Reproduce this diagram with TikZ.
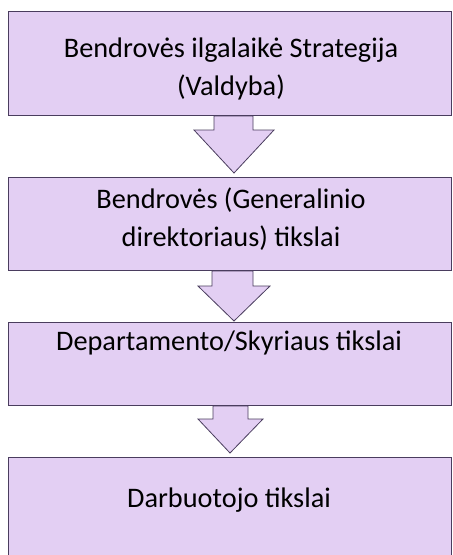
\documentclass[tikz,border=0pt]{standalone}
\usepackage{fontspec}
\setmainfont{Carlito}
\usetikzlibrary{calc,backgrounds}
\definecolor{boxfill}{HTML}{E3CFF3}
\definecolor{boxline}{HTML}{4A3D5E}
\tikzset{
  stage/.style={draw=boxline, fill=boxfill, line width=1pt, minimum width=443pt, inner sep=0pt, anchor=north west},
  caption/.style={font=\fontsize{28.3}{38}\selectfont, align=center, text=black, inner sep=0pt},
  flow/.style={draw=boxline, fill=boxfill, line width=0.8pt, line join=miter}
}
\begin{document}
\begin{tikzpicture}[x=1pt,y=-1pt]
\useasboundingbox (0,0) rectangle (453,555);
\clip (0,0) rectangle (453,555);
\node[stage, minimum height=104pt] (b1) at (8,11) {};
\node[stage, minimum height=93pt] (b2) at (8,177) {};
\node[stage, minimum height=83pt] (b3) at (8,322) {};
\node[stage, minimum height=110pt] (b4) at (8,457) {};
\node[caption] (t1) at (231,69) {Bendrovės ilgalaikė Strategija\\(Valdyba)};
\node[caption] (t2) at (231,219.5) {Bendrovės (Generalinio\\direktoriaus) tikslai};
\node[caption] (t3) at (229,343) {Departamento/Skyriaus tikslai};
\node[caption] (t4) at (229,500) {Darbuotojo tikslai};
\begin{scope}[on background layer]
\draw[flow] ($(b1.south west)+(206,0)$) -- ($(b1.south west)+(206,14)$) -- ($(b1.south west)+(186,14)$) -- ($(b1.south west)+(226,57)$) -- ($(b1.south west)+(266,14)$) -- ($(b1.south west)+(245,14)$) -- ($(b1.south west)+(245,0)$) -- cycle;
\draw[flow] ($(b2.south west)+(204,0)$) -- ($(b2.south west)+(204,15)$) -- ($(b2.south west)+(190,15)$) -- ($(b2.south west)+(226,50)$) -- ($(b2.south west)+(262,15)$) -- ($(b2.south west)+(245,15)$) -- ($(b2.south west)+(245,0)$) -- cycle;
\draw[flow] ($(b3.south west)+(205,0)$) -- ($(b3.south west)+(205,13)$) -- ($(b3.south west)+(190,13)$) -- ($(b3.south west)+(222,47)$) -- ($(b3.south west)+(255,13)$) -- ($(b3.south west)+(240,13)$) -- ($(b3.south west)+(240,0)$) -- cycle;
\end{scope}
\end{tikzpicture}
\end{document}
